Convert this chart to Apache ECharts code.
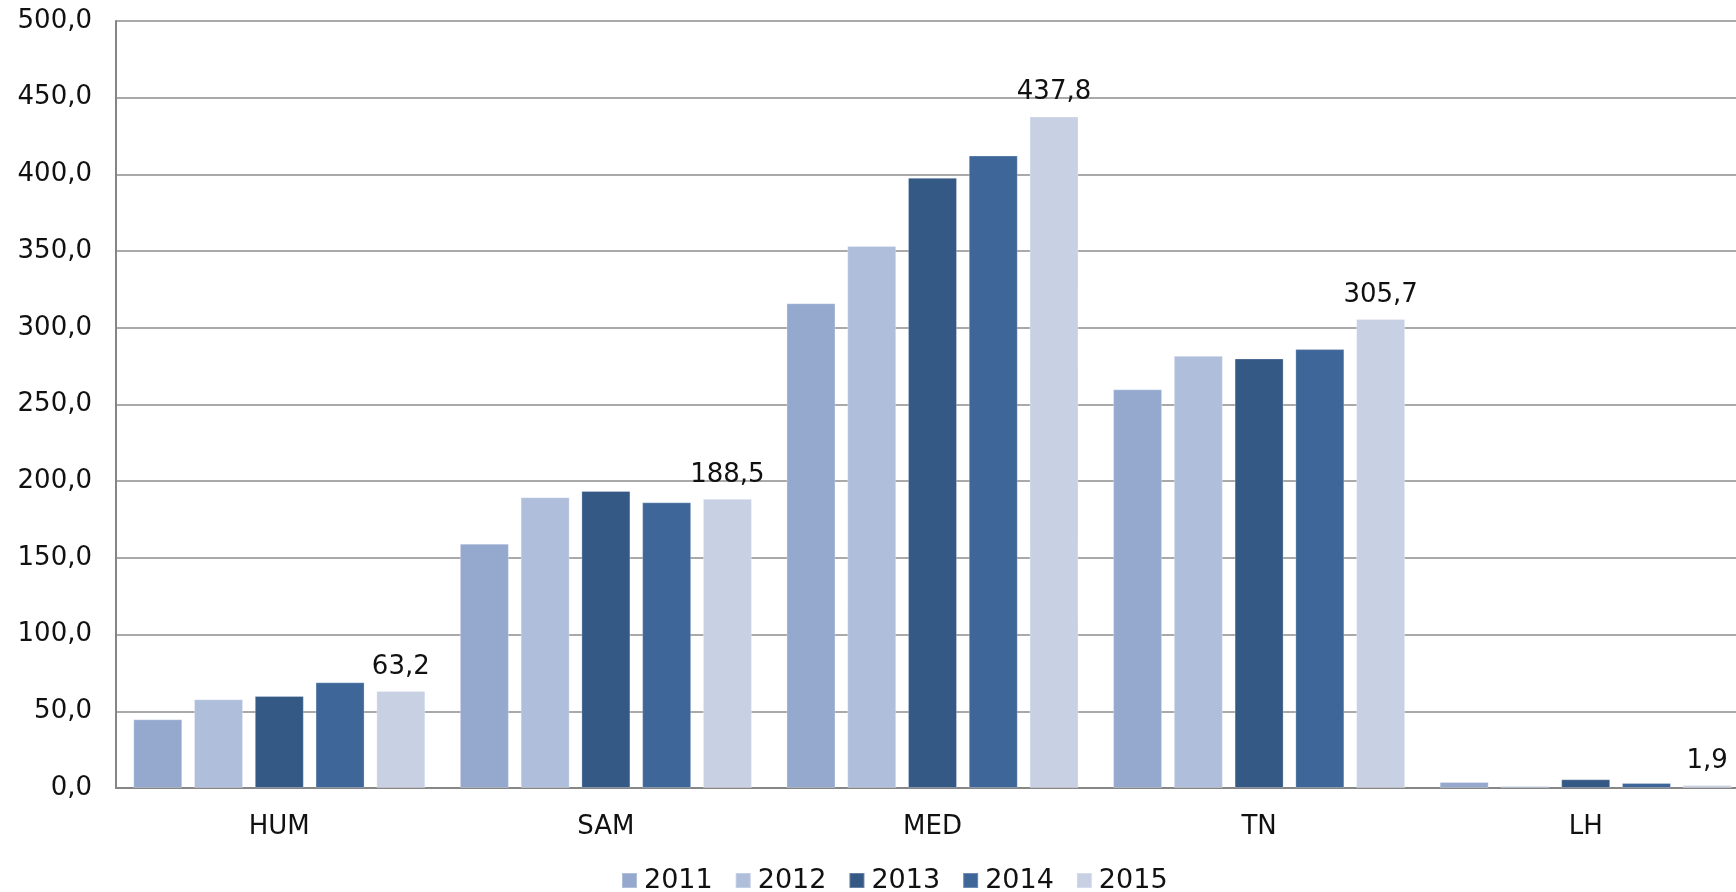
<!DOCTYPE html>
<html>
<head>
<meta charset="utf-8">
<script src="https://cdn.jsdelivr.net/npm/echarts@6/dist/echarts.min.js"></script>
<style>
  html, body { margin: 0; padding: 0; background: #fff; overflow: hidden; }
  #chart { width: 1749px; height: 892px; }
</style>
</head>
<body>
<div id="chart"></div>
<script>
const categories = ["HUM", "SAM", "MED", "TN", "LH"];
const years = ["2011", "2012", "2013", "2014", "2015"];
const v2011 = [44.8, 159.3, 316.0, 259.9, 3.9];
const v2012 = [57.8, 189.6, 353.4, 281.7, 1.3];
const v2013 = [60.0, 193.6, 397.8, 280.0, 5.7];
const v2014 = [68.9, 186.2, 412.3, 286.1, 3.3];
const v2015 = [63.2, 188.5, 437.8, 305.7, 1.9];
const colors = ["#95a9cf", "#afbfdb", "#355985", "#3e6698", "#c8d1e4"];

const fmt = v => v.toFixed(1).replace(".", ",");
const font = "DejaVu Sans, Verdana, sans-serif";
const allValues = [v2011, v2012, v2013, v2014, v2015];

// the plot area runs a little past the right edge of the picture
const chart = echarts.init(document.getElementById("chart"));
chart.setOption({
  animation: false,
  color: colors,
  grid: {
    left: 116,
    right: 0,
    top: 21,
    bottom: 104,
    containLabel: false,
  },
  legend: {
    left: 616,
    top: 862,
    icon: "rect",
    itemWidth: 15,
    itemHeight: 15,
    itemGap: 22,
    textStyle: {
      fontFamily: font,
      fontSize: 27,
      color: "#111",
      padding: [0, 0, 0, 2],
    },
    data: years,
  },
  xAxis: {
    type: "category",
    data: categories,
    axisTick: { show: false },
    axisLine: {
      show: true,
      lineStyle: { color: "#868686", width: 2 },
    },
    axisLabel: {
      fontFamily: font,
      fontSize: 26,
      color: "#111",
      margin: 26,
    },
  },
  yAxis: {
    type: "value",
    min: 0,
    max: 500,
    interval: 50,
    axisTick: { show: false },
    axisLine: {
      show: true,
      lineStyle: { color: "#868686", width: 2 },
    },
    splitLine: {
      lineStyle: { color: "#8c8c8c", width: 1.5 },
    },
    axisLabel: {
      fontFamily: font,
      fontSize: 26,
      color: "#111",
      margin: 24,
      formatter: v => fmt(v),
    },
  },
  series: years.map((y, i) => ({
    name: y,
    type: "bar",
    barWidth: 49,
    barGap: "24%",
    data: allValues[i],
    itemStyle: {
      color: colors[i],
      borderColor: "rgba(255,255,255,0.25)",
      borderWidth: 1,
    },
    label: {
      show: i === 4,
      position: "top",
      distance: 11,
      fontFamily: font,
      fontSize: 26,
      color: "#111",
      formatter: p => fmt(p.value),
    },
  })),
});
window.addEventListener("resize", () => {
  chart.resize();
});
</script>
</body>
</html>
